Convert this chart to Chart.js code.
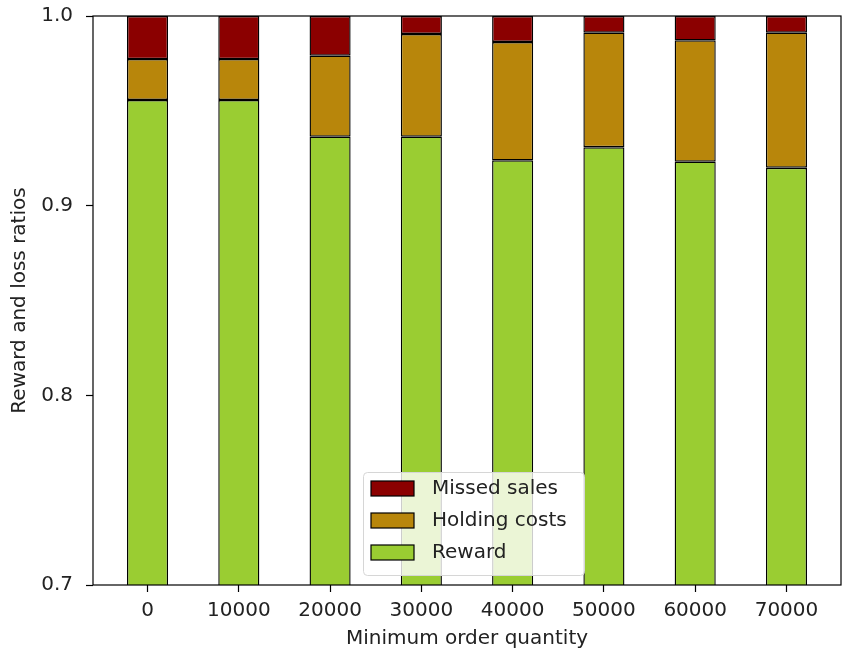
<!DOCTYPE html>
<html>
<head>
<meta charset="utf-8">
<script src="https://cdn.jsdelivr.net/npm/chart.js@4.4.1/dist/chart.umd.min.js"></script>
<style>
  html, body { margin: 0; padding: 0; background: #fff; }
  #wrap { width: 845px; height: 651px; }
</style>
</head>
<body>
<div id="wrap"><canvas id="chart" width="845" height="651"></canvas></div>
<script>
// data
const quantities = ['0', '10000', '20000', '30000', '40000', '50000', '60000', '70000'];
const reward = [0.9557, 0.9557, 0.9364, 0.9364, 0.9239, 0.9308, 0.9232, 0.9200];
const holdingCosts = [0.0216, 0.0216, 0.0427, 0.0541, 0.0624, 0.0604, 0.0640, 0.0712];
const missedSales = [0.0227, 0.0227, 0.0209, 0.0095, 0.0137, 0.0088, 0.0128, 0.0088];
const yTicks = [0.7, 0.8, 0.9, 1.0];

const FONT = "'DejaVu Sans', sans-serif";
const toPoints = (arr) => arr.map((v, i) => ({ x: i, y: v }));

// matplotlib-style frame around the axes
const framePlugin = {
    id: 'frame',
    afterDatasetsDraw(chart) {
        const { ctx, chartArea: a } = chart;
        ctx.save();
        ctx.strokeStyle = '#000';
        ctx.lineWidth = 1.2;
        ctx.strokeRect(a.left, a.top, a.right - a.left, a.bottom - a.top);
        ctx.restore();
    }
};

// legend drawn inside the axes (lower centre)
const innerLegend = {
    id: 'innerLegend',
    afterDraw(chart) {
        const { ctx, chartArea: a } = chart;
        const items = chart.data.datasets.slice().reverse();
        const boxW = 221, boxH = 103;
        const x0 = a.left + 270, y0 = a.bottom - 10 - boxH;
        ctx.save();
        ctx.fillStyle = 'rgba(255,255,255,0.8)';
        ctx.strokeStyle = '#d6d6d6';
        ctx.lineWidth = 1;
        ctx.beginPath();
        ctx.roundRect(x0 + 0.5, y0 + 0.5, boxW, boxH, 4);
        ctx.fill();
        ctx.stroke();
        ctx.font = '20px ' + FONT;
        ctx.textBaseline = 'middle';
        items.forEach((ds, i) => {
            const cy = y0 + 17 + i * 32;
            ctx.fillStyle = ds.backgroundColor;
            ctx.fillRect(x0 + 8, cy - 8, 43, 15);
            ctx.strokeStyle = '#000';
            ctx.lineWidth = 1.2;
            ctx.strokeRect(x0 + 8, cy - 8, 43, 15);
            ctx.fillStyle = '#222';
            ctx.fillText(ds.label, x0 + 69, cy);
        });
        ctx.restore();
    }
};

const ctx = document.getElementById('chart').getContext('2d');
new Chart(ctx, {
    type: 'bar',
    data: {
        datasets: [
            { label: 'Reward', data: toPoints(reward), backgroundColor: '#9ACD32' },
            { label: 'Holding costs', data: toPoints(holdingCosts), backgroundColor: '#B8860B' },
            { label: 'Missed sales', data: toPoints(missedSales), backgroundColor: '#8B0000' },
        ].map(ds => Object.assign(ds, {
            borderColor: '#000',
            borderWidth: 1.4,
            borderSkipped: false,
            barPercentage: 0.45,
            categoryPercentage: 1.0,
        })),
    },
    options: {
        responsive: false,
        animation: false,
        layout: { padding: { top: 16, right: 4, left: 8, bottom: 0 } },
        plugins: { legend: { display: false }, tooltip: { enabled: false } },
        scales: {
            x: {
                type: 'linear',
                offset: false,
                stacked: true,
                min: -0.5975,
                max: 7.5975,
                afterBuildTicks: (s) => { s.ticks = quantities.map((_, i) => ({ value: i })); },
                afterFit: (s) => { s.height = 66; },
                ticks: {
                    callback: (v) => quantities[v],
                    font: { family: FONT, size: 20 },
                    color: '#222',
                    padding: 7,
                    maxRotation: 0,
                },
                grid: { display: true, offset: false, drawOnChartArea: false, drawTicks: true, tickLength: 7, color: '#000', tickWidth: 1.2 },
                border: { display: false },
                title: {
                    display: true,
                    text: 'Minimum order quantity',
                    font: { family: FONT, size: 20 },
                    color: '#222',
                    padding: { top: 0, bottom: 0 },
                },
            },
            y: {
                stacked: true,
                min: 0.7,
                max: 1.0,
                afterBuildTicks: (s) => { s.ticks = yTicks.map(v => ({ value: v })); },
                afterFit: (s) => { s.width = 85; s.paddingTop = 0; s.paddingBottom = 0; },
                ticks: {
                    callback: (v) => v.toFixed(1),
                    font: { family: FONT, size: 20 },
                    color: '#222',
                    padding: 13,
                },
                grid: { display: true, drawOnChartArea: false, drawTicks: true, tickLength: 7, color: '#000', tickWidth: 1.2 },
                border: { display: false },
                title: {
                    display: true,
                    text: 'Reward and loss ratios',
                    font: { family: FONT, size: 20 },
                    color: '#222',
                    padding: { top: 0, bottom: 4 },
                },
            },
        },
    },
    plugins: [framePlugin, innerLegend],
});
</script>
</body>
</html>
